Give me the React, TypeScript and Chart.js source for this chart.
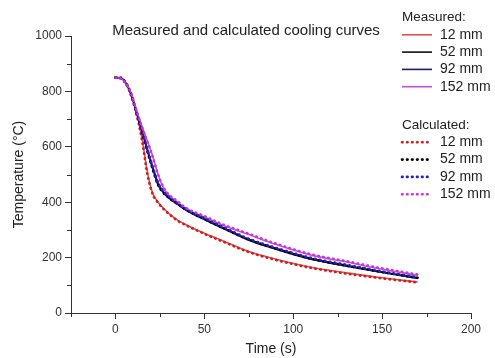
import { useEffect, useRef } from 'react';
import { Chart, registerables } from 'chart.js';

Chart.register(...registerables);

const FONT = '"Liberation Sans", Arial, sans-serif';
const AXIS = '#333333';
const TEXT = '#222222';

// time (s)
const timeS = [0, 3, 6, 9, 12, 15, 18, 21, 24, 27, 30, 35, 40, 50, 60, 75, 90, 110, 130, 150, 170];

const sizeLabels = ['12 mm', '52 mm', '92 mm', '152 mm'];

// measured temperatures (°C)
const measured12 = [850, 848, 830, 788, 722, 630, 508, 432, 400, 378, 360, 335, 318, 288, 262, 222, 195, 165, 145, 127, 112];
const measured52 = [850, 848, 828, 785, 720, 655, 585, 520, 462, 434, 415, 392, 370, 337, 307, 263, 231, 194, 169, 146, 125];
const measured92 = [850, 848, 828, 786, 722, 662, 592, 528, 470, 438, 418, 393, 372, 340, 310, 266, 234, 197, 172, 148, 127];
const measured152 = [850, 847, 830, 792, 730, 672, 620, 565, 500, 452, 425, 400, 375, 347, 318, 283, 248, 209, 184, 158, 136];

// calculated temperatures (°C)
const calc12 = [850, 846, 826, 782, 714, 622, 500, 428, 398, 376, 358, 333, 316, 286, 259, 220, 192, 163, 142, 125, 110];
const calc52 = [850, 849, 830, 786, 718, 652, 582, 518, 462, 434, 416, 393, 372, 339, 309, 265, 233, 196, 171, 148, 127];
const calc92 = [850, 848, 827, 784, 720, 660, 590, 526, 470, 440, 420, 395, 374, 342, 312, 268, 236, 199, 174, 150, 129];
const calc152 = [850, 846, 829, 790, 728, 670, 618, 563, 500, 454, 428, 403, 378, 350, 321, 286, 251, 212, 187, 161, 139];

const measuredColors = ['#dd5050', '#111111', '#1c1c78', '#c54fd6'];
const calcColors = ['#cc2020', '#000000', '#2020cc', '#cc33dd'];

const xMajor = [0, 50, 100, 150, 200];
const xMinor = [-25, 25, 75, 125, 175];
const yMajor = [0, 200, 400, 600, 800, 1000];
const yMinor = [100, 300, 500, 700, 900];

const titleText = 'Measured and calculated cooling curves';

const toPoints = (ys: number[]) => ys.map((y, i) => ({ x: timeS[i], y }));

const measuredSets = [measured12, measured52, measured92, measured152];
const calcSets = [calc12, calc52, calc92, calc152];

const minorTicksPlugin = {
  id: 'minorTicks',
  afterDraw(chart: any) {
    const { ctx } = chart;
    const xs = chart.scales.x;
    const ys = chart.scales.y;
    ctx.save();
    ctx.strokeStyle = AXIS;
    ctx.lineWidth = 1;
    xMinor.forEach((v) => {
      const px = Math.round(xs.getPixelForValue(v)) + 0.5;
      ctx.beginPath();
      ctx.moveTo(px, xs.top);
      ctx.lineTo(px, xs.top + 4);
      ctx.stroke();
    });
    yMinor.forEach((v) => {
      const py = Math.round(ys.getPixelForValue(v)) + 0.5;
      ctx.beginPath();
      ctx.moveTo(ys.right, py);
      ctx.lineTo(ys.right - 4, py);
      ctx.stroke();
    });
    ctx.restore();
  },
};

const titlePlugin = {
  id: 'insideTitle',
  afterDraw(chart: any) {
    const { ctx, chartArea } = chart;
    ctx.save();
    ctx.font = `15px ${FONT}`;
    ctx.fillStyle = TEXT;
    ctx.textAlign = 'center';
    ctx.textBaseline = 'middle';
    ctx.fillText(titleText, chartArea.left + 175, chartArea.top - 5);
    ctx.restore();
  },
};

const legendPlugin = {
  id: 'groupLegend',
  afterDraw(chart: any) {
    const { ctx } = chart;
    const ds = chart.data.datasets;
    const x0 = 401;
    const lineEnd = 432;
    const textX = 440;
    const step = 17.3;
    const groups = [
      { title: 'Measured:', top: 17.5, start: 0 },
      { title: 'Calculated:', top: 125, start: 4 },
    ];
    ctx.save();
    ctx.textBaseline = 'middle';
    groups.forEach((g) => {
      ctx.font = `13.5px ${FONT}`;
      ctx.fillStyle = TEXT;
      ctx.textAlign = 'left';
      ctx.fillText(g.title, x0 + 1, g.top);
      for (let i = 0; i < 4; i++) {
        const d = ds[g.start + i];
        const yy = g.top + step * (i + 1);
        ctx.save();
        ctx.strokeStyle = d.borderColor;
        ctx.lineWidth = d.borderWidth;
        ctx.lineCap = d.borderCapStyle || 'butt';
        ctx.setLineDash(d.borderDash || []);
        ctx.beginPath();
        ctx.moveTo(x0 + 1, yy);
        ctx.lineTo(lineEnd, yy);
        ctx.stroke();
        ctx.restore();
        ctx.font = `14px ${FONT}`;
        ctx.fillStyle = TEXT;
        ctx.fillText(d.label, textX, yy);
      }
    });
    ctx.restore();
  },
};

export default function App() {
  const canvasRef = useRef<HTMLCanvasElement | null>(null);

  useEffect(() => {
    document.body.style.margin = '0';
    const canvas = canvasRef.current;
    if (!canvas) return;

    const measuredDatasets = measuredSets.map((vals, i) => ({
      label: sizeLabels[i],
      data: toPoints(vals),
      borderColor: measuredColors[i],
      backgroundColor: measuredColors[i],
      borderWidth: 1.6,
      pointRadius: 0,
      cubicInterpolationMode: 'monotone' as const,
      fill: false,
      order: 10 - i,
    }));
    const calcDatasets = calcSets.map((vals, i) => ({
      label: sizeLabels[i],
      data: toPoints(vals),
      borderColor: calcColors[i],
      backgroundColor: calcColors[i],
      borderWidth: 2.6,
      borderDash: [0.6, 4.4],
      borderCapStyle: 'round' as const,
      pointRadius: 0,
      cubicInterpolationMode: 'monotone' as const,
      fill: false,
      order: 4 - i,
    }));

    const chart = new Chart(canvas, {
      type: 'line',
      data: { datasets: [...measuredDatasets, ...calcDatasets] as any },
      options: {
        animation: false,
        responsive: true,
        maintainAspectRatio: false,
        layout: { padding: { top: 36, right: 24, left: 0, bottom: 0 } },
        plugins: {
          legend: { display: false },
          title: { display: false },
          tooltip: { enabled: false },
        },
        scales: {
          x: {
            type: 'linear',
            min: -25,
            max: 200,
            afterFit: (s: any) => {
              s.height = 45;
            },
            ticks: {
              stepSize: 25,
              color: AXIS,
              font: { family: FONT, size: 12 },
              padding: 3,
              maxRotation: 0,
              autoSkip: false,
              callback: (v: any) => (xMajor.includes(Number(v)) ? String(v) : ''),
            },
            grid: {
              drawOnChartArea: false,
              drawTicks: true,
              tickLength: 6,
              tickColor: (c: any) => (c.tick && xMajor.includes(c.tick.value) ? AXIS : 'rgba(0,0,0,0)'),
            },
            border: { display: true, color: AXIS, width: 1 },
            title: {
              display: true,
              text: 'Time (s)',
              color: TEXT,
              font: { family: FONT, size: 14 },
              padding: { top: 0, bottom: 0 },
            },
          },
          y: {
            type: 'linear',
            min: 0,
            max: 1000,
            afterFit: (s: any) => {
              s.width = 71;
            },
            ticks: {
              stepSize: 100,
              color: AXIS,
              font: { family: FONT, size: 12 },
              padding: 3,
              autoSkip: false,
              callback: (v: any) => (yMajor.includes(Number(v)) ? String(v) : ''),
            },
            grid: {
              drawOnChartArea: false,
              drawTicks: true,
              tickLength: 6,
              tickColor: (c: any) => (c.tick && yMajor.includes(c.tick.value) ? AXIS : 'rgba(0,0,0,0)'),
            },
            border: { display: true, color: AXIS, width: 1 },
            title: {
              display: true,
              text: 'Temperature (°C)',
              color: TEXT,
              font: { family: FONT, size: 14 },
              padding: { top: 11, bottom: 0 },
            },
          },
        },
      },
      plugins: [minorTicksPlugin, titlePlugin, legendPlugin],
    });

    return () => chart.destroy();
  }, []);

  return (
    <div style={{ width: 495, height: 358, position: 'relative', background: '#fff' }}>
      <canvas ref={canvasRef} />
    </div>
  );
}
